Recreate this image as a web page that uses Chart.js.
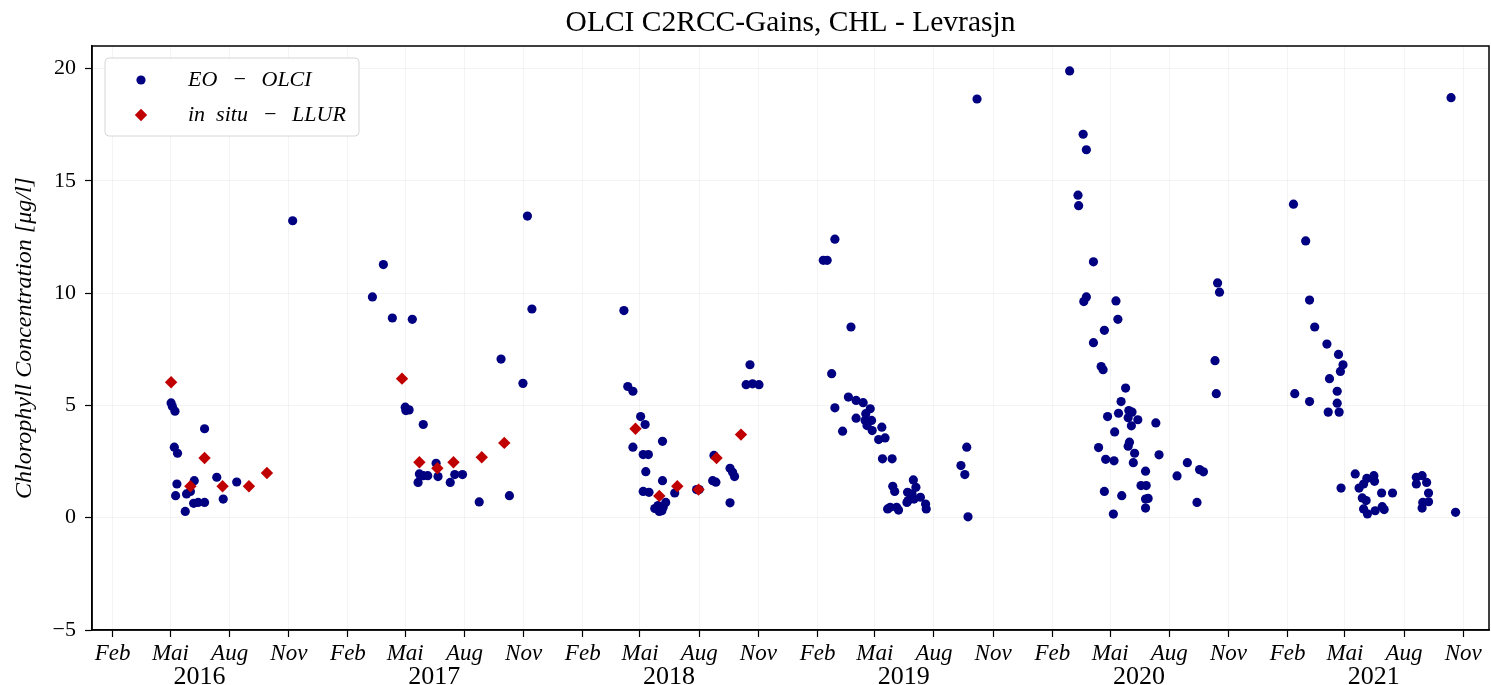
<!DOCTYPE html>
<html>
<head>
<meta charset="utf-8">
<title>OLCI C2RCC-Gains, CHL - Levrasjn</title>
<script src="https://cdn.jsdelivr.net/npm/chart.js@4.4.1/dist/chart.umd.min.js"></script>
<style>
  html, body { margin: 0; padding: 0; background: #fff; }
</style>
</head>
<body>
<canvas id="chart" width="1491" height="685"></canvas>
<script>
const monthNames = ["Jan", "Feb", "Mär", "Apr", "Mai", "Jun", "Jul", "Aug", "Sep", "Okt", "Nov", "Dez"];
const tickYears = [2016, 2017, 2018, 2019, 2020, 2021];
const tickMonths = [1, 4, 7, 10];
const yTicks = [-5, 0, 5, 10, 15, 20];

// EO - OLCI retrievals
const olciDates = [
  "2016-05-02", "2016-05-04", "2016-05-08", "2016-06-23", "2016-05-07", "2016-05-12", "2016-05-11",
  "2016-06-07", "2016-07-12", "2016-08-12", "2016-05-09", "2016-05-26", "2016-06-01", "2016-06-06",
  "2016-06-13", "2016-06-23", "2016-05-24", "2016-07-22", "2016-11-07",
  "2017-03-11", "2017-03-28", "2017-04-11", "2017-05-12", "2017-05-01", "2017-05-07", "2017-05-02",
  "2017-05-29", "2017-06-18", "2017-05-23", "2017-05-29", "2017-06-05", "2017-05-21", "2017-06-21",
  "2017-07-17", "2017-07-29", "2017-07-10", "2017-08-24", "2017-09-27", "2017-10-10", "2017-10-31",
  "2017-11-07", "2017-11-14",
  "2018-04-06", "2018-04-12", "2018-04-20", "2018-05-02", "2018-05-09", "2018-04-20", "2018-06-05",
  "2018-05-06", "2018-05-14", "2018-05-10", "2018-06-05", "2018-05-06", "2018-05-15", "2018-06-24",
  "2018-05-24", "2018-05-31", "2018-06-06", "2018-06-10", "2018-05-29", "2018-06-04", "2018-07-28",
  "2018-08-01", "2018-08-22", "2018-08-27", "2018-08-24", "2018-09-18", "2018-09-22", "2018-09-25",
  "2018-09-18", "2018-10-13", "2018-10-19", "2018-10-23", "2018-11-02",
  "2019-02-10", "2019-02-16", "2019-02-23", "2019-02-28", "2019-02-28", "2019-03-12", "2019-03-21",
  "2019-03-25", "2019-04-02", "2019-04-02", "2019-04-13", "2019-04-16", "2019-04-17", "2019-04-19",
  "2019-04-24", "2019-04-26", "2019-04-27", "2019-05-07", "2019-05-12", "2019-05-13", "2019-05-17",
  "2019-05-21", "2019-05-25", "2019-05-28", "2019-05-29", "2019-06-01", "2019-06-04", "2019-06-07",
  "2019-06-20", "2019-06-21", "2019-06-22", "2019-06-28", "2019-06-30", "2019-07-01", "2019-07-04",
  "2019-07-11", "2019-07-19", "2019-07-20", "2019-09-12", "2019-09-18", "2019-09-21", "2019-09-23",
  "2019-10-07",
  "2020-02-28", "2020-03-12", "2020-03-13", "2020-03-20", "2020-03-21", "2020-03-25", "2020-03-25",
  "2020-04-05", "2020-04-05", "2020-04-13", "2020-04-17", "2020-04-20", "2020-04-22", "2020-04-22",
  "2020-04-24", "2020-04-27", "2020-05-06", "2020-05-07", "2020-05-08", "2020-05-10", "2020-05-13",
  "2020-05-14", "2020-05-18", "2020-05-19", "2020-05-25", "2020-05-29", "2020-05-29", "2020-05-30",
  "2020-05-31", "2020-06-03", "2020-06-04", "2020-06-06", "2020-06-08", "2020-06-13", "2020-06-18",
  "2020-06-25", "2020-06-25", "2020-06-25", "2020-06-26", "2020-06-29", "2020-07-11", "2020-07-16",
  "2020-08-13", "2020-08-29", "2020-09-13", "2020-09-17", "2020-09-23", "2020-10-11", "2020-10-13",
  "2020-10-15", "2020-10-18",
  "2021-02-10", "2021-02-12", "2021-03-01", "2021-03-07", "2021-03-07", "2021-03-15", "2021-04-03",
  "2021-04-05", "2021-04-07", "2021-04-19", "2021-04-19", "2021-04-21", "2021-04-22", "2021-04-24",
  "2021-04-25", "2021-04-28", "2021-05-17", "2021-05-23", "2021-05-28", "2021-05-30", "2021-05-30",
  "2021-06-03", "2021-06-04", "2021-06-05", "2021-06-15", "2021-06-16", "2021-06-17", "2021-06-27",
  "2021-06-28", "2021-07-01", "2021-07-14", "2021-08-20", "2021-08-20", "2021-08-29", "2021-08-29",
  "2021-08-30", "2021-09-05", "2021-09-08", "2021-09-08", "2021-10-13", "2021-10-20"
];
const olciValues = [
  5.11, 4.95, 4.74, 3.96, 3.14, 2.87, 1.50,
  1.65, 1.80, 1.59, 0.98, 1.06, 1.17, 0.64,
  0.68, 0.68, 0.28, 0.83, 13.22,
  9.83, 11.27, 8.89, 8.83, 4.92, 4.80, 4.77,
  4.15, 2.42, 1.95, 1.87, 1.87, 1.57, 1.83,
  1.92, 1.92, 1.57, 0.70, 7.06, 0.98, 5.98,
  13.43, 9.29,
  9.22, 5.84, 5.63, 4.50, 4.15, 3.14, 3.40,
  2.81, 2.81, 2.05, 1.65, 1.17, 1.13, 1.10,
  0.41, 0.28, 0.46, 0.68, 0.54, 0.31, 1.25,
  1.25, 1.65, 1.58, 2.77, 2.20, 2.02, 1.83,
  0.66, 5.92, 6.81, 5.96, 5.92,
  11.46, 11.46, 6.41, 12.40, 4.89, 3.85, 5.37,
  8.49, 5.22, 4.43, 5.12, 4.33, 4.63, 4.10,
  4.85, 4.33, 3.88, 3.48, 4.03, 2.62, 3.55,
  0.39, 0.46, 2.62, 1.40, 1.17, 0.46, 0.34,
  0.68, 1.13, 0.76, 1.06, 1.68, 0.83, 1.35,
  0.91, 0.61, 0.39, 2.32, 1.92, 3.14, 0.04,
  18.64,
  19.89, 14.36, 13.89, 17.07, 9.62, 16.38, 9.83,
  11.39, 7.79, 3.12, 6.73, 6.59, 8.34, 1.17,
  2.60, 4.50, 0.16, 2.53, 3.82, 9.65, 8.83,
  4.65, 5.17, 0.98, 5.77, 4.45, 3.18, 4.77,
  3.36, 4.09, 4.70, 2.45, 2.87, 4.36, 1.43,
  2.07, 0.83, 0.43, 1.43, 0.86, 4.22, 2.80,
  1.86, 2.45, 0.68, 2.14, 2.04, 6.99, 5.52,
  10.45, 10.04,
  13.96, 5.52, 12.32, 9.69, 5.17, 8.49, 7.73,
  4.70, 6.19, 5.63, 5.10, 7.27, 4.70, 6.51,
  1.32, 6.81, 1.95, 1.32, 0.88, 1.50, 0.39,
  0.76, 1.75, 0.17, 1.87, 1.62, 0.31, 1.10,
  0.49, 0.36, 1.10, 1.80, 1.50, 1.87, 0.43,
  0.68, 1.57, 1.10, 0.71, 18.70, 0.24
];

// in situ - LLUR samples
const llurDates = [
  "2016-05-02", "2016-06-01", "2016-06-23", "2016-07-21", "2016-08-31", "2016-09-28",
  "2017-04-26", "2017-05-23", "2017-06-20", "2017-07-15", "2017-08-28", "2017-10-02",
  "2018-04-24", "2018-05-31", "2018-06-28", "2018-07-31", "2018-08-28", "2018-10-05"
];
const llurValues = [
  6.03, 1.40, 2.66, 1.40, 1.40, 1.99,
  6.19, 2.47, 2.20, 2.47, 2.69, 3.33,
  3.96, 0.97, 1.40, 1.25, 2.66, 3.70
];

const xStart = Date.parse("2015-12-31");
const xEnd = Date.parse("2021-12-11");
const serif = "'Liberation Serif', 'DejaVu Serif', serif";

function toPoints(dates, values) {
  return dates.map((d, i) => ({ x: Date.parse(d), y: values[i] }));
}

function monthTicks() {
  const ticks = [];
  tickYears.forEach(y => {
    tickMonths.forEach(m => ticks.push({ value: Date.UTC(y, m, 1) }));
  });
  return ticks;
}

function fmtNumber(v) {
  return v < 0 ? "\u2212" + Math.abs(v) : String(v);
}

// black box round the plot area
const frame = {
  id: "frame",
  afterDatasetsDraw(chart) {
    const { ctx, chartArea: a } = chart;
    ctx.save();
    ctx.strokeStyle = "#000";
    ctx.lineWidth = 1.5;
    ctx.strokeRect(a.left, a.top, a.right - a.left, a.bottom - a.top);
    ctx.restore();
  }
};

// legend in the upper left corner of the plot
const legendBox = {
  id: "legendBox",
  afterDraw(chart) {
    const { ctx, chartArea: a } = chart;
    const x = a.left + 13, y = a.top + 12, w = 254, h = 78;
    ctx.save();
    ctx.beginPath();
    ctx.roundRect(x, y, w, h, 4);
    ctx.fillStyle = "rgba(255,255,255,0.85)";
    ctx.fill();
    ctx.strokeStyle = "#d6d6d6";
    ctx.lineWidth = 1;
    ctx.stroke();
    chart.data.datasets.forEach((ds, i) => {
      const cy = y + 22 + i * 35;
      ctx.fillStyle = ds.backgroundColor;
      Chart.helpers.drawPoint(ctx, {
        pointStyle: ds.pointStyle, radius: ds.pointRadius, rotation: 0, borderWidth: 0
      }, x + 36, cy);
      ctx.fillStyle = "#000";
      ctx.font = "italic 22px " + serif;
      ctx.textBaseline = "middle";
      ctx.fillText(ds.label, x + 83, cy);
    });
    ctx.restore();
  }
};

new Chart(document.getElementById("chart"), {
  type: "scatter",
  data: {
    datasets: [
      {
        label: "EO\u2002\u2006\u2212\u2002\u2006OLCI",
        data: toPoints(olciDates, olciValues),
        backgroundColor: "#000080",
        pointStyle: "circle",
        pointRadius: 4.6,
        borderWidth: 0,
        order: 1
      },
      {
        label: "in\u2002situ\u2002\u2006\u2212\u2002\u2006LLUR",
        data: toPoints(llurDates, llurValues),
        backgroundColor: "#c00000",
        pointStyle: "rectRot",
        pointRadius: 6.2,
        borderWidth: 0,
        order: 0
      }
    ]
  },
  options: {
    responsive: false,
    animation: false,
    layout: { autoPadding: false, padding: { left: 0, right: 2, top: 0, bottom: 0 } },
    plugins: {
      legend: { display: false },
      tooltip: { enabled: false },
      title: {
        display: true,
        fullSize: false,
        text: "OLCI C2RCC-Gains, CHL - Levrasjn",
        color: "#000",
        font: { family: serif, size: 29.5, weight: "normal" },
        padding: { top: 6, bottom: 4.6 }
      }
    },
    scales: {
      x: {
        type: "linear",
        position: "bottom",
        min: xStart,
        max: xEnd,
        weight: 0,
        afterBuildTicks: scale => { scale.ticks = monthTicks(); },
        afterFit: scale => { scale.height = 30; },
        ticks: {
          autoSkip: false,
          maxRotation: 0,
          minRotation: 0,
          // mirrored so the descenders are not clipped to the axis box
          mirror: true,
          padding: -38,
          color: "#000",
          font: { family: serif, size: 23, style: "italic" },
          callback: v => monthNames[new Date(v).getUTCMonth()]
        },
        grid: { color: "rgba(0,0,0,0.045)", tickColor: "#000", tickLength: 7, tickWidth: 1.2 },
        border: { display: true, color: "#000", width: 1.5 }
      },
      xYear: {
        type: "linear",
        position: "bottom",
        min: xStart,
        max: xEnd,
        weight: 1,
        afterBuildTicks: scale => {
          scale.ticks = tickYears.map(y => ({ value: Date.UTC(y, 5, 15) }));
        },
        afterFit: scale => { scale.height = 25; },
        ticks: {
          autoSkip: false,
          maxRotation: 0,
          minRotation: 0,
          padding: 1.5,
          color: "#000",
          font: { family: serif, size: 26 },
          callback: v => String(new Date(v).getUTCFullYear())
        },
        grid: { display: false, drawTicks: false },
        border: { display: false }
      },
      y: {
        type: "linear",
        min: -5,
        max: 21,
        afterBuildTicks: scale => { scale.ticks = yTicks.map(v => ({ value: v })); },
        afterFit: scale => { scale.width = 92; },
        ticks: {
          padding: 9,
          color: "#000",
          font: { family: serif, size: 22 },
          callback: v => fmtNumber(v)
        },
        grid: { color: "rgba(0,0,0,0.045)", tickColor: "#000", tickLength: 7, tickWidth: 1.2 },
        border: { display: true, color: "#000", width: 1.5 },
        title: {
          display: true,
          text: "Chlorophyll Concentration [\u03bcg/l]",
          color: "#000",
          font: { family: serif, size: 24, style: "italic" },
          padding: { top: 10, bottom: 0 }
        }
      }
    }
  },
  plugins: [frame, legendBox]
});
</script>
</body>
</html>
